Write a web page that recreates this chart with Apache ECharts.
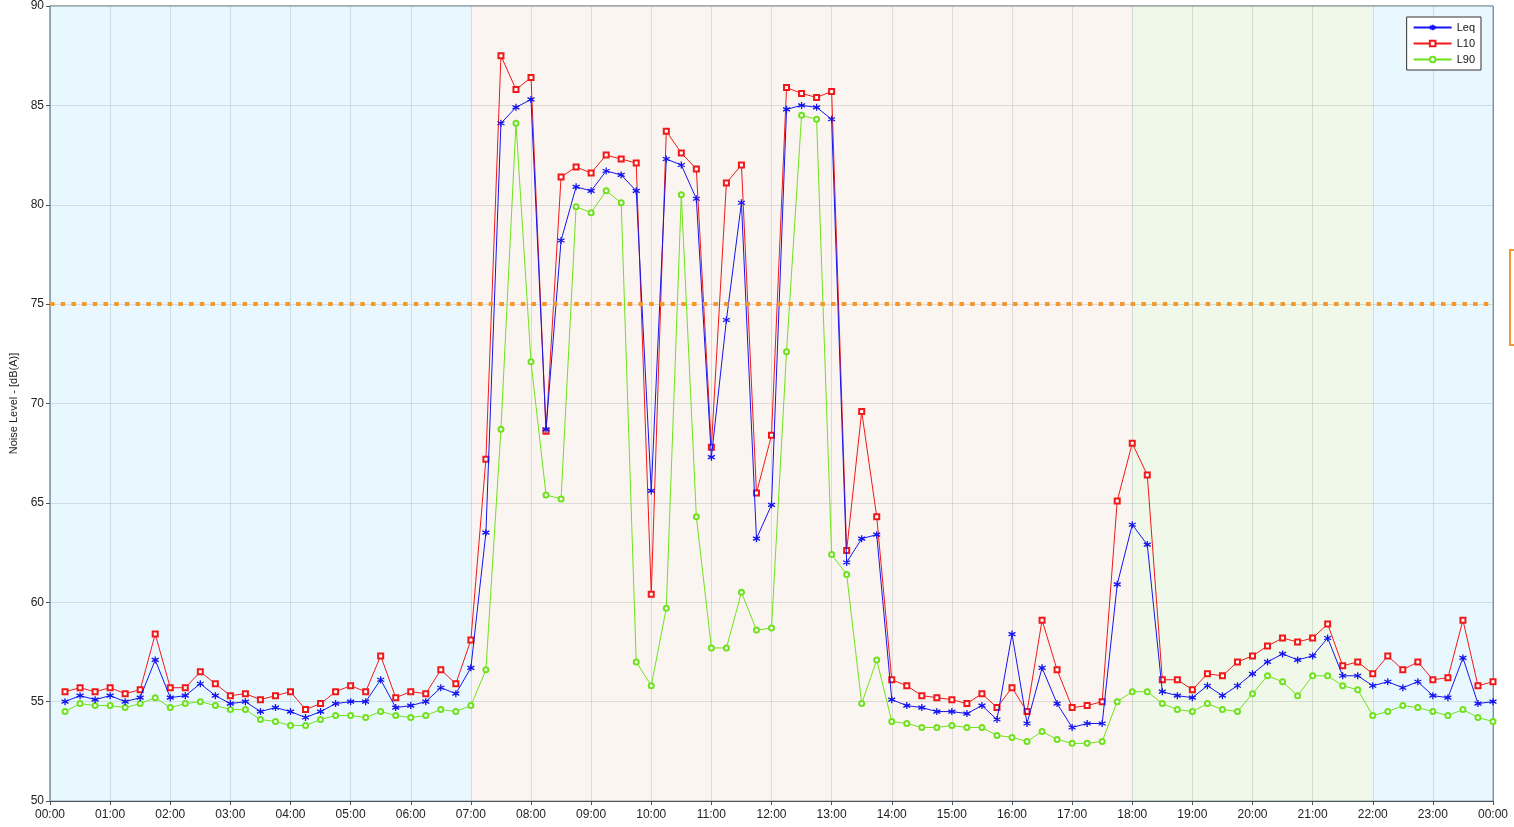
<!DOCTYPE html>
<html>
<head>
<meta charset="utf-8">
<script src="https://cdn.jsdelivr.net/npm/echarts@6/dist/echarts.min.js"></script>
<style>
  html, body { margin: 0; padding: 0; background: #fff; }
  #chart { width: 1514px; height: 827px; }
</style>
</head>
<body>
<div id="chart"></div>
<script>
// 15 minute intervals, end of period
const times = [
  '00:15','00:30','00:45','01:00','01:15','01:30','01:45','02:00','02:15','02:30','02:45','03:00',
  '03:15','03:30','03:45','04:00','04:15','04:30','04:45','05:00','05:15','05:30','05:45','06:00',
  '06:15','06:30','06:45','07:00','07:15','07:30','07:45','08:00','08:15','08:30','08:45','09:00',
  '09:15','09:30','09:45','10:00','10:15','10:30','10:45','11:00','11:15','11:30','11:45','12:00',
  '12:15','12:30','12:45','13:00','13:15','13:30','13:45','14:00','14:15','14:30','14:45','15:00',
  '15:15','15:30','15:45','16:00','16:15','16:30','16:45','17:00','17:15','17:30','17:45','18:00',
  '18:15','18:30','18:45','19:00','19:15','19:30','19:45','20:00','20:15','20:30','20:45','21:00',
  '21:15','21:30','21:45','22:00','22:15','22:30','22:45','23:00','23:15','23:30','23:45','24:00'
];
const leq = [
  55.0, 55.3, 55.1, 55.3, 55.0, 55.2, 57.1, 55.2, 55.3, 55.9, 55.3, 54.9,
  55.0, 54.5, 54.7, 54.5, 54.2, 54.5, 54.9, 55.0, 55.0, 56.1, 54.7, 54.8,
  55.0, 55.7, 55.4, 56.7, 63.5, 84.1, 84.9, 85.3, 68.7, 78.2, 80.9, 80.7,
  81.7, 81.5, 80.7, 65.6, 82.3, 82.0, 80.3, 67.3, 74.2, 80.1, 63.2, 64.9,
  84.8, 85.0, 84.9, 84.3, 62.0, 63.2, 63.4, 55.1, 54.8, 54.7, 54.5, 54.5,
  54.4, 54.8, 54.1, 58.4, 53.9, 56.7, 54.9, 53.7, 53.9, 53.9, 60.9, 63.9,
  62.9, 55.5, 55.3, 55.2, 55.8, 55.3, 55.8, 56.4, 57.0, 57.4, 57.1, 57.3,
  58.2, 56.3, 56.3, 55.8, 56.0, 55.7, 56.0, 55.3, 55.2, 57.2, 54.9, 55.0
];
const l10 = [
  55.5, 55.7, 55.5, 55.7, 55.4, 55.6, 58.4, 55.7, 55.7, 56.5, 55.9, 55.3,
  55.4, 55.1, 55.3, 55.5, 54.6, 54.9, 55.5, 55.8, 55.5, 57.3, 55.2, 55.5,
  55.4, 56.6, 55.9, 58.1, 67.2, 87.5, 85.8, 86.4, 68.6, 81.4, 81.9, 81.6,
  82.5, 82.3, 82.1, 60.4, 83.7, 82.6, 81.8, 67.8, 81.1, 82.0, 65.5, 68.4,
  85.9, 85.6, 85.4, 85.7, 62.6, 69.6, 64.3, 56.1, 55.8, 55.3, 55.2, 55.1,
  54.9, 55.4, 54.7, 55.7, 54.5, 59.1, 56.6, 54.7, 54.8, 55.0, 65.1, 68.0,
  66.4, 56.1, 56.1, 55.6, 56.4, 56.3, 57.0, 57.3, 57.8, 58.2, 58.0, 58.2,
  58.9, 56.8, 57.0, 56.4, 57.3, 56.6, 57.0, 56.1, 56.2, 59.1, 55.8, 56.0
];
const l90 = [
  54.5, 54.9, 54.8, 54.8, 54.7, 54.9, 55.2, 54.7, 54.9, 55.0, 54.8, 54.6,
  54.6, 54.1, 54.0, 53.8, 53.8, 54.1, 54.3, 54.3, 54.2, 54.5, 54.3, 54.2,
  54.3, 54.6, 54.5, 54.8, 56.6, 68.7, 84.1, 72.1, 65.4, 65.2, 79.9, 79.6,
  80.7, 80.1, 57.0, 55.8, 59.7, 80.5, 64.3, 57.7, 57.7, 60.5, 58.6, 58.7,
  72.6, 84.5, 84.3, 62.4, 61.4, 54.9, 57.1, 54.0, 53.9, 53.7, 53.7, 53.8,
  53.7, 53.7, 53.3, 53.2, 53.0, 53.5, 53.1, 52.9, 52.9, 53.0, 55.0, 55.5,
  55.5, 54.9, 54.6, 54.5, 54.9, 54.6, 54.5, 55.4, 56.3, 56.0, 55.3, 56.3,
  56.3, 55.8, 55.6, 54.3, 54.5, 54.8, 54.7, 54.5, 54.3, 54.6, 54.2, 54.0
];
const limit = 75;
// night / day / evening / night periods
const periods = [['00:00', '07:00'], ['07:00', '18:00'], ['18:00', '22:00'], ['22:00', '24:00']];
// half transparent so the grid lines underneath still show
const periodColors = ['rgba(212,241,253,0.5)', 'rgba(245,235,227,0.5)', 'rgba(223,241,211,0.5)', 'rgba(212,241,253,0.5)'];

const toHours = (t) => {
  const p = t.split(':');
  return +p[0] + (+p[1]) / 60;
};
const pairs = (vals) => vals.map((v, i) => [toHours(times[i]), v]);

const font = 'Liberation Sans, Arial, sans-serif';
const starPath = 'path://M5 0 L5 10 M0.7 2.5 L9.3 7.5 M0.7 7.5 L9.3 2.5';
const gridColor = 'rgba(50,60,70,0.28)';

const myChart = echarts.init(document.getElementById('chart'));

let option = {
  animation: false,
  textStyle: { fontFamily: font },
  grid: {
    left: 50,
    right: 21,
    top: 5,
    bottom: 26,
    show: true,
    backgroundColor: 'transparent',
    borderColor: '#4a5560',
    borderWidth: 1,
  },
  legend: {
    right: 33,
    top: 17,
    orient: 'vertical',
    backgroundColor: '#fff',
    borderColor: '#333',
    borderWidth: 1,
    borderRadius: 0,
    padding: [5, 6, 5, 6],
    itemGap: 5,
    itemWidth: 38,
    itemHeight: 7,
    textStyle: { fontSize: 11, color: '#111', fontFamily: font },
    data: ['Leq', 'L10', 'L90'],
  },
  xAxis: {
    type: 'value',
    min: 0,
    max: 24,
    interval: 1,
    axisLine: { lineStyle: { color: '#4a5560' } },
    axisTick: { length: 4, lineStyle: { color: '#4a5560' } },
    axisLabel: {
      fontSize: 12,
      color: '#222',
      margin: 8,
      formatter: (v) => String(v % 24).padStart(2, '0') + ':00',
    },
    splitLine: { show: true, lineStyle: { color: gridColor, width: 1 } },
  },
  yAxis: {
    type: 'value',
    min: 50,
    max: 90,
    interval: 5,
    name: 'Noise Level - [dB(A)]',
    nameLocation: 'middle',
    nameGap: 29,
    nameTextStyle: { fontSize: 11, color: '#222' },
    axisLine: { show: true, lineStyle: { color: '#4a5560' } },
    axisTick: { show: true, length: 4, lineStyle: { color: '#4a5560' } },
    axisLabel: { fontSize: 12, color: '#222', margin: 6 },
    splitLine: { show: true, lineStyle: { color: gridColor, width: 1 } },
  },
  series: [
    {
      name: 'bands',
      type: 'line',
      z: 0,
      data: [],
      silent: true,
      markArea: {
        silent: true,
        data: periods.map((p, i) => [
          { xAxis: toHours(p[0]), itemStyle: { color: periodColors[i] } },
          { xAxis: toHours(p[1]) },
        ]),
      },
    },
    {
      name: 'Leq',
      type: 'line',
      z: 4,
      data: pairs(leq),
      symbol: starPath,
      symbolSize: 7,
      lineStyle: { color: '#1414f0', width: 1 },
      itemStyle: { color: '#1414f0', borderColor: '#1414f0', borderWidth: 1.3 },
      markLine: {
        silent: true,
        symbol: 'none',
        label: { show: false },
        lineStyle: { color: '#f7962a', width: 4, type: [4.5, 6.2], opacity: 1 },
        data: [{ yAxis: limit }],
      },
    },
    {
      name: 'L10',
      type: 'line',
      z: 3,
      data: pairs(l10),
      symbol: 'emptyRect',
      symbolSize: 5,
      lineStyle: { color: '#f01818', width: 1 },
      itemStyle: { color: '#f01818', borderWidth: 1 },
    },
    {
      name: 'L90',
      type: 'line',
      z: 2,
      data: pairs(l90),
      symbol: 'emptyCircle',
      symbolSize: 5,
      lineStyle: { color: '#6fe21e', width: 1 },
      itemStyle: { color: '#6fe21e', borderWidth: 1 },
    },
  ],
  graphic: [
    {
      type: 'polyline',
      silent: true,
      shape: { points: [[1514, 250], [1510, 250], [1510, 345], [1514, 345]] },
      style: { stroke: '#f7962a', lineWidth: 2, fill: null },
    },
  ],
};

myChart.setOption(option);
</script>
</body>
</html>
